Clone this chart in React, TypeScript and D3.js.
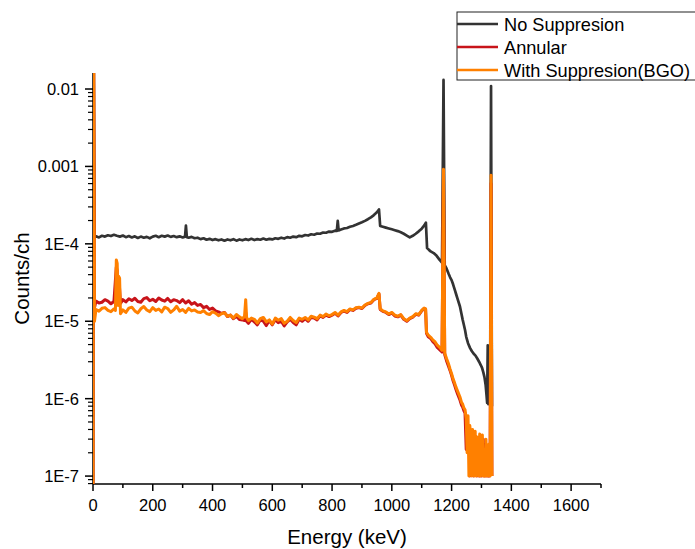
import React from "react";
import * as d3 from "d3";

const energyTicks = [0, 200, 400, 600, 800, 1000, 1200, 1400, 1600];
const countTicks = [1e-2, 1e-3, 1e-4, 1e-5, 1e-6, 1e-7];
const countTickLabels = ["0.01", "0.001", "1E-4", "1E-5", "1E-6", "1E-7"];
const seriesNames = ["No Suppresion", "Annular", "With Suppresion(BGO)"];
const seriesColors = ["#333333", "#c8141a", "#ff8000"];

// [energy keV, counts/ch]
const noSuppression: [number, number][] = [
  [0, 5e-8], [2, 0.05], [5, 1.22e-4], [10, 1.25e-4], [20, 1.21e-4], [30, 1.27e-4], [40, 1.24e-4], [50, 1.29e-4],
  [60, 1.26e-4], [70, 1.31e-4], [80, 1.27e-4], [90, 1.24e-4], [100, 1.28e-4], [110, 1.22e-4], [120, 1.26e-4],
  [130, 1.21e-4], [140, 1.25e-4], [150, 1.19e-4], [160, 1.24e-4], [170, 1.2e-4], [180, 1.23e-4], [190, 1.18e-4],
  [200, 1.24e-4], [210, 1.27e-4], [220, 1.22e-4], [230, 1.27e-4], [240, 1.24e-4], [250, 1.28e-4], [260, 1.23e-4],
  [270, 1.26e-4], [280, 1.22e-4], [290, 1.25e-4], [300, 1.21e-4], [308, 1.24e-4], [311, 1.72e-4], [314, 1.22e-4],
  [320, 1.2e-4], [330, 1.23e-4], [340, 1.18e-4], [350, 1.2e-4], [360, 1.15e-4], [370, 1.18e-4], [380, 1.13e-4],
  [390, 1.16e-4], [400, 1.12e-4], [410, 1.15e-4], [420, 1.11e-4], [430, 1.14e-4], [440, 1.1e-4], [450, 1.14e-4],
  [460, 1.11e-4], [470, 1.15e-4], [480, 1.1e-4], [490, 1.14e-4], [500, 1.11e-4], [510, 1.15e-4], [520, 1.12e-4],
  [530, 1.16e-4], [540, 1.12e-4], [550, 1.15e-4], [560, 1.13e-4], [570, 1.17e-4], [580, 1.13e-4], [590, 1.16e-4],
  [600, 1.14e-4], [610, 1.18e-4], [620, 1.16e-4], [630, 1.2e-4], [640, 1.17e-4], [650, 1.22e-4], [660, 1.2e-4],
  [670, 1.24e-4], [680, 1.22e-4], [690, 1.27e-4], [700, 1.25e-4], [710, 1.3e-4], [720, 1.28e-4], [730, 1.33e-4],
  [740, 1.31e-4], [750, 1.36e-4], [760, 1.35e-4], [770, 1.4e-4], [780, 1.39e-4], [790, 1.44e-4], [800, 1.43e-4],
  [810, 1.48e-4], [816, 1.47e-4], [819, 1.98e-4], [822, 1.49e-4], [830, 1.53e-4], [840, 1.58e-4], [850, 1.6e-4],
  [860, 1.66e-4], [870, 1.7e-4], [880, 1.76e-4], [890, 1.83e-4], [900, 1.9e-4], [910, 1.98e-4], [920, 2.08e-4],
  [930, 2.2e-4], [940, 2.35e-4], [950, 2.55e-4], [957, 2.78e-4], [961, 1.7e-4], [970, 1.66e-4], [980, 1.62e-4],
  [990, 1.58e-4], [1000, 1.54e-4], [1010, 1.5e-4], [1020, 1.46e-4], [1030, 1.41e-4], [1040, 1.35e-4],
  [1050, 1.28e-4], [1060, 1.21e-4], [1070, 1.27e-4], [1080, 1.35e-4], [1090, 1.45e-4], [1100, 1.57e-4],
  [1108, 1.72e-4], [1114, 1.88e-4], [1118, 8.8e-5], [1125, 8.3e-5], [1130, 8e-5], [1140, 7.6e-5], [1150, 7.0e-5],
  [1160, 6.2e-5], [1168, 5.7e-5], [1173, 0.0131], [1177, 5.3e-5], [1183, 4.8e-5], [1190, 4.1e-5], [1195, 3.7e-5],
  [1200, 3.4e-5], [1205, 3.0e-5], [1210, 2.6e-5], [1215, 2.25e-5], [1220, 1.95e-5], [1228, 1.55e-5],
  [1233, 1.25e-5], [1237, 1.05e-5], [1241, 9e-6], [1245, 7.7e-6], [1249, 6.3e-6], [1255, 5.2e-6], [1262, 4.5e-6],
  [1268, 4.1e-6], [1274, 3.8e-6], [1280, 3.6e-6], [1286, 3.3e-6], [1292, 3.0e-6], [1298, 2.7e-6], [1302, 2.5e-6],
  [1306, 2.2e-6], [1310, 1.9e-6], [1314, 1.5e-6], [1317, 1.1e-6], [1319, 8.8e-7], [1321, 4.9e-6], [1323, 8.5e-7],
  [1326, 9e-7], [1329, 1.1e-6], [1332, 0.0109], [1335, 8e-7],
];

const annular: [number, number][] = [
  [0, 5e-8], [2, 0.05], [5, 1.5e-5], [10, 1.82e-5], [20, 1.72e-5], [30, 1.76e-5], [40, 1.9e-5], [50, 1.82e-5],
  [60, 1.68e-5], [70, 1.8e-5], [78, 5e-5], [81, 4.5e-5], [84, 1.8e-5], [88, 3e-5], [92, 1.7e-5], [100, 1.9e-5],
  [110, 1.78e-5], [120, 1.95e-5], [130, 1.85e-5], [140, 1.98e-5], [150, 1.8e-5], [160, 1.76e-5], [170, 1.96e-5],
  [180, 2.02e-5], [190, 1.84e-5], [200, 1.92e-5], [210, 1.8e-5], [220, 2.0e-5], [230, 1.88e-5], [240, 1.82e-5],
  [250, 1.97e-5], [260, 1.79e-5], [270, 1.9e-5], [280, 1.85e-5], [290, 1.74e-5], [300, 1.9e-5], [310, 1.72e-5],
  [320, 1.84e-5], [330, 1.66e-5], [340, 1.74e-5], [350, 1.6e-5], [360, 1.65e-5], [370, 1.5e-5], [380, 1.56e-5],
  [390, 1.42e-5], [400, 1.48e-5], [410, 1.36e-5], [420, 1.32e-5], [430, 1.26e-5], [440, 1.3e-5], [450, 1.15e-5],
  [460, 1.2e-5], [470, 1.08e-5], [480, 1.16e-5], [490, 1.05e-5], [500, 1.04e-5], [507, 1.02e-5], [511, 1.3e-5],
  [514, 1.0e-5], [520, 9.4e-6], [530, 1.06e-5], [540, 9.8e-6], [550, 9.0e-6], [560, 1.04e-5], [570, 1.0e-5],
  [580, 8.8e-6], [590, 1.02e-5], [600, 9.0e-6], [610, 1.05e-5], [620, 9.6e-6], [630, 1.0e-5], [640, 8.7e-6],
  [650, 9.8e-6], [660, 1.06e-5], [670, 9.6e-6], [680, 9.0e-6], [690, 1.06e-5], [700, 1.0e-5], [710, 1.08e-5],
  [720, 1.0e-5], [730, 1.12e-5], [740, 1.1e-5], [750, 1.04e-5], [760, 1.17e-5], [770, 1.12e-5], [780, 1.2e-5],
  [790, 1.15e-5], [800, 1.2e-5], [810, 1.27e-5], [820, 1.17e-5], [830, 1.3e-5], [840, 1.35e-5], [850, 1.3e-5],
  [860, 1.42e-5], [870, 1.38e-5], [880, 1.47e-5], [890, 1.5e-5], [900, 1.46e-5], [910, 1.6e-5], [920, 1.68e-5],
  [930, 1.72e-5], [940, 1.9e-5], [950, 1.97e-5], [957, 2.25e-5], [961, 1.42e-5], [970, 1.34e-5], [980, 1.3e-5],
  [990, 1.22e-5], [1000, 1.28e-5], [1010, 1.17e-5], [1020, 1.14e-5], [1030, 1.2e-5], [1040, 1.06e-5],
  [1050, 1.0e-5], [1060, 1.08e-5], [1070, 1.13e-5], [1080, 1.23e-5], [1090, 1.2e-5], [1100, 1.36e-5],
  [1108, 1.46e-5], [1113, 1.43e-5], [1116, 7e-6], [1122, 6.3e-6], [1130, 6e-6], [1138, 5.4e-6], [1145, 5.1e-6],
  [1152, 4.6e-6], [1160, 4.3e-6], [1168, 4.0e-6], [1173, 8e-4], [1177, 3.7e-6], [1183, 3.1e-6], [1190, 2.6e-6],
  [1195, 2.3e-6], [1200, 2.0e-6], [1205, 1.7e-6], [1210, 1.5e-6], [1215, 1.3e-6], [1220, 1.15e-6], [1228, 9.6e-7],
  [1233, 8.3e-7], [1237, 7.8e-7], [1241, 7e-7], [1245, 6.5e-7], [1249, 2.2e-7], [1252, 5e-7], [1255, 3e-7],
  [1258, 4e-7], [1261, 1e-7], [1264, 3e-7], [1267, 2e-7], [1270, 3.4e-7], [1273, 1e-7], [1276, 3e-7], [1279, 2e-7],
  [1282, 3e-7], [1285, 1e-7], [1288, 3e-7], [1291, 2e-7], [1294, 1e-7], [1297, 3e-7], [1300, 1e-7], [1303, 2e-7],
  [1306, 3e-7], [1309, 1e-7], [1312, 2.5e-7], [1315, 1e-7], [1318, 2.4e-7], [1321, 1e-7], [1324, 2.2e-7],
  [1326, 1e-7], [1329, 2e-7], [1332, 6e-4], [1335, 1e-7],
];

const withBGO: [number, number][] = [
  [0, 5e-8], [2, 0.05], [5, 1.0e-5], [10, 1.42e-5], [20, 1.35e-5], [30, 1.47e-5], [40, 1.5e-5], [50, 1.38e-5],
  [60, 1.33e-5], [70, 1.44e-5], [75, 1.38e-5], [78, 6.2e-5], [81, 5.6e-5], [84, 1.6e-5], [86, 3.8e-5],
  [89, 3.6e-5], [92, 1.25e-5], [100, 1.4e-5], [110, 1.3e-5], [120, 1.48e-5], [130, 1.52e-5], [140, 1.36e-5],
  [150, 1.28e-5], [160, 1.45e-5], [170, 1.55e-5], [180, 1.4e-5], [190, 1.33e-5], [200, 1.5e-5], [210, 1.38e-5],
  [220, 1.44e-5], [230, 1.32e-5], [240, 1.52e-5], [250, 1.46e-5], [260, 1.3e-5], [270, 1.4e-5], [280, 1.56e-5],
  [290, 1.35e-5], [300, 1.42e-5], [310, 1.3e-5], [320, 1.47e-5], [330, 1.36e-5], [340, 1.4e-5], [350, 1.32e-5],
  [360, 1.3e-5], [370, 1.37e-5], [380, 1.26e-5], [390, 1.22e-5], [400, 1.33e-5], [410, 1.27e-5], [420, 1.18e-5],
  [430, 1.25e-5], [440, 1.29e-5], [450, 1.16e-5], [460, 1.2e-5], [470, 1.1e-5], [480, 1.22e-5], [490, 1.14e-5],
  [500, 1.08e-5], [507, 1.15e-5], [511, 1.9e-5], [514, 1.12e-5], [520, 1.02e-5], [530, 1.1e-5], [540, 1.06e-5],
  [550, 9.5e-6], [560, 1.08e-5], [570, 1.12e-5], [580, 9.8e-6], [590, 1.04e-5], [600, 9.2e-6], [610, 1.1e-5],
  [620, 1.03e-5], [630, 1.08e-5], [640, 9.4e-6], [650, 1.0e-5], [660, 1.12e-5], [670, 1.02e-5], [680, 9.6e-6],
  [690, 1.1e-5], [700, 1.06e-5], [710, 1.12e-5], [720, 1.04e-5], [730, 1.16e-5], [740, 1.13e-5], [750, 1.08e-5],
  [760, 1.2e-5], [770, 1.15e-5], [780, 1.24e-5], [790, 1.18e-5], [800, 1.22e-5], [810, 1.3e-5], [820, 1.2e-5],
  [830, 1.32e-5], [840, 1.38e-5], [850, 1.33e-5], [860, 1.44e-5], [870, 1.4e-5], [880, 1.5e-5], [890, 1.52e-5],
  [900, 1.48e-5], [910, 1.62e-5], [920, 1.7e-5], [930, 1.75e-5], [940, 1.92e-5], [950, 2.0e-5], [957, 2.3e-5],
  [961, 1.45e-5], [970, 1.36e-5], [980, 1.32e-5], [990, 1.24e-5], [1000, 1.3e-5], [1010, 1.2e-5],
  [1020, 1.16e-5], [1030, 1.22e-5], [1040, 1.08e-5], [1050, 1.02e-5], [1060, 1.1e-5], [1070, 1.15e-5],
  [1080, 1.25e-5], [1090, 1.22e-5], [1100, 1.38e-5], [1108, 1.48e-5], [1113, 1.45e-5], [1116, 7.2e-6],
  [1122, 6.6e-6], [1130, 6.2e-6], [1138, 5.7e-6], [1145, 5.4e-6], [1152, 4.9e-6], [1160, 4.6e-6], [1168, 4.2e-6],
  [1173, 9.2e-4], [1177, 3.9e-6], [1183, 3.3e-6], [1190, 2.8e-6], [1195, 2.4e-6], [1200, 2.1e-6], [1205, 1.8e-6],
  [1210, 1.6e-6], [1215, 1.4e-6], [1220, 1.25e-6], [1228, 1.05e-6], [1233, 9e-7], [1237, 8.5e-7], [1241, 7.6e-7],
  [1245, 7.2e-7], [1249, 5.5e-7], [1252, 2e-7], [1255, 6e-7], [1258, 1e-7], [1261, 4.5e-7], [1264, 3.2e-7],
  [1267, 1e-7], [1270, 4e-7], [1273, 3e-7], [1276, 1e-7], [1279, 3.8e-7], [1282, 1e-7], [1285, 3.2e-7],
  [1288, 2.4e-7], [1291, 1e-7], [1294, 3.5e-7], [1297, 1e-7], [1300, 2.6e-7], [1303, 3.4e-7], [1306, 1e-7],
  [1309, 2.2e-7], [1312, 1e-7], [1315, 3e-7], [1318, 1e-7], [1321, 2.5e-7], [1324, 1e-7], [1326, 2.6e-7],
  [1329, 1e-7], [1332, 7.7e-4], [1335, 1e-7],
];

const allSeries = [noSuppression, annular, withBGO];

const FONT = "'Liberation Sans', Arial, Helvetica, sans-serif";

export default function App() {
  const W = 695;
  const H = 549;
  const left = 93, right = 601, top = 73, bottom = 484;
  const x = d3.scaleLinear().domain([0, 1700]).range([left, right]);
  const y = d3.scaleLog().domain([7.9e-8, 0.0161]).range([bottom, top]);
  const line = d3
    .line<[number, number]>()
    .x((d) => x(d[0]))
    .y((d) => y(d[1]));

  const xMinor = d3.range(100, 1701, 200);
  const yMinor = y.ticks().filter((t) => {
    const m = Math.round(t / Math.pow(10, Math.floor(Math.log10(t) + 1e-9)));
    return m !== 1;
  });

  const legendRows = [24, 47, 70];

  return (
    <svg
      width={W}
      height={H}
      style={{ position: "absolute", left: 0, top: 0, background: "#fff" }}
      fontFamily={FONT}
    >
      <defs>
        <clipPath id="plotClip">
          <rect x={left} y={top} width={right - left} height={bottom - top} />
        </clipPath>
      </defs>
      <rect x={0} y={0} width={W} height={H} fill="#fff" />

      {/* axes */}
      <line x1={left} y1={top} x2={left} y2={bottom} stroke="#000" strokeWidth={1.5} />
      <line x1={left} y1={bottom} x2={right} y2={bottom} stroke="#000" strokeWidth={1.5} />

      {energyTicks.map((t) => (
        <g key={"xt" + t}>
          <line x1={x(t)} x2={x(t)} y1={bottom} y2={bottom + 7} stroke="#000" strokeWidth={1.5} />
          <text x={x(t)} y={511} textAnchor="middle" fontSize={16.5} fill="#000">
            {t}
          </text>
        </g>
      ))}
      {xMinor.map((t) => (
        <line key={"xm" + t} x1={x(t)} x2={x(t)} y1={bottom} y2={bottom + 4} stroke="#000" strokeWidth={1.5} />
      ))}

      {countTicks.map((t, i) => (
        <g key={"yt" + t}>
          <line x1={left - 8} x2={left} y1={y(t)} y2={y(t)} stroke="#000" strokeWidth={1.5} />
          <text x={79} y={y(t) + 6} textAnchor="end" fontSize={16.5} fill="#000">
            {countTickLabels[i]}
          </text>
        </g>
      ))}
      {yMinor.map((t) => (
        <line key={"ym" + t} x1={left - 5} x2={left} y1={y(t)} y2={y(t)} stroke="#000" strokeWidth={1.2} />
      ))}

      {/* data */}
      <g clipPath="url(#plotClip)">
        {allSeries.map((s, i) => (
          <path
            key={"s" + i}
            d={line(s) || ""}
            fill="none"
            stroke={seriesColors[i]}
            strokeWidth={i === 0 ? 2.7 : 3}
            strokeLinejoin="round"
          />
        ))}
      </g>

      {/* axis titles */}
      <text x={(left + right) / 2} y={544} textAnchor="middle" fontSize={20.5} fill="#000">
        Energy (keV)
      </text>
      <text
        transform={`translate(28.5, ${(top + bottom) / 2}) rotate(-90)`}
        textAnchor="middle"
        fontSize={20.5}
        fill="#000"
      >
        Counts/ch
      </text>

      {/* legend */}
      <rect x={457} y={12} width={260} height={68} fill="#fff" stroke="#222" strokeWidth={1} />
      {seriesNames.map((n, i) => (
        <g key={"lg" + i}>
          <line x1={457} x2={498} y1={legendRows[i]} y2={legendRows[i]} stroke={seriesColors[i]} strokeWidth={2.7} />
          <text x={504} y={legendRows[i] + 7} fontSize={18.2} fill="#000">
            {n}
          </text>
        </g>
      ))}
    </svg>
  );
}
